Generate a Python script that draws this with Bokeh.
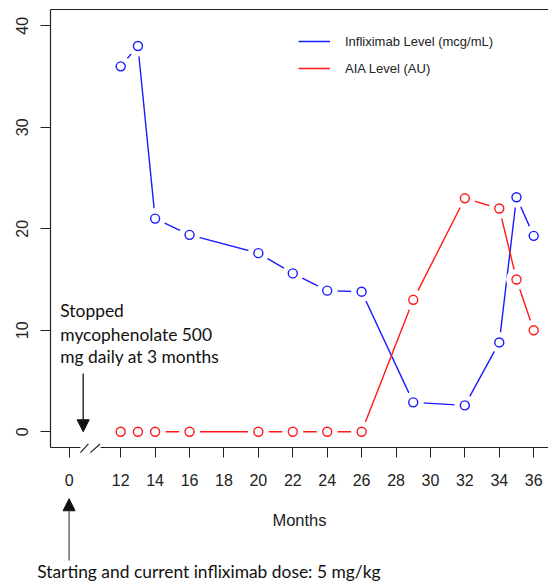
from bokeh.plotting import figure
from bokeh.models import (Range1d, FixedTicker, LinearAxis, Legend, LegendItem, Arrow, NormalHead)
from bokeh.core.properties import value
from bokeh.embed import file_html
from bokeh.resources import INLINE

# ---- data ----
months_ifx = [12, 13, 14, 16, 20, 22, 24, 26, 29, 32, 34, 35, 36]
ifx_level = [36, 38, 21, 19.4, 17.6, 15.6, 13.9, 13.8, 2.9, 2.6, 8.8, 23.1, 19.3]
months_aia = [12, 13, 14, 16, 20, 22, 24, 26, 29, 32, 34, 35, 36]
aia_level = [0, 0, 0, 0, 0, 0, 0, 0, 13, 23, 22, 15, 10]

x_tick_pos = [9, 12, 14, 16, 18, 20, 22, 24, 26, 28, 30, 32, 34, 36]
x_tick_labels = ["0", "12", "14", "16", "18", "20", "22", "24", "26", "28", "30", "32", "34", "36"]
y_ticks = [0, 10, 20, 30, 40]

series_names = ["Infliximab Level (mcg/mL)", "AIA Level (AU)"]
series_colors = ["#1a1aff", "#ff1a1a"]

annot_top = ["Stopped", "mycophenolate 500", "mg daily at 3 months"]
annot_bottom = "Starting and current infliximab dose: 5 mg/kg"
x_title = "Months"

# ---- geometry ----
W, H = 548, 581
SX = 17.208   # px per month
SY = 10.151   # px per unit
BX0, BX1 = 7.92, 36.86      # plot box left / right (data)
BY0, BY1 = -1.55, 41.6      # plot box bottom / top (data)
BOX_L, BOX_T, BOX_B = 50, 9, 447   # box edges in px

INK = "#222222"
TICK_FONT = "Liberation Sans"
ANN_FONT = "Lato"

p = figure(width=W, height=H, output_backend="svg", toolbar_location=None,
           x_range=Range1d(BX0 - BOX_L / SX, BX1),
           y_range=Range1d(BY0 - (H - BOX_B) / SY, BY1 + BOX_T / SY),
           x_axis_location=None, y_axis_location=None,
           min_border=0, min_border_left=0, min_border_right=0,
           min_border_top=0, min_border_bottom=0)
p.outline_line_color = None
p.grid.visible = False

# x axis drawn at the box bottom
xa = LinearAxis(fixed_location=BY0, bounds=(BX0, BX1))
xa.ticker = FixedTicker(ticks=x_tick_pos)
xa.major_label_overrides = {t: l for t, l in zip(x_tick_pos, x_tick_labels)}
xa.minor_tick_line_color = None
xa.major_tick_in = 0
xa.major_tick_out = 10
xa.major_tick_line_color = INK
xa.axis_line_color = None
xa.major_label_standoff = 16
xa.major_label_text_font = TICK_FONT
xa.major_label_text_font_size = "16px"
xa.major_label_text_color = INK
xa.axis_label = x_title
xa.axis_label_text_font = TICK_FONT
xa.axis_label_text_font_size = "16.5px"
xa.axis_label_text_font_style = "normal"
xa.axis_label_text_color = INK
xa.axis_label_standoff = 22
p.add_layout(xa, "below")

# y axis drawn at the box left
ya = LinearAxis(fixed_location=BX0, bounds=(BY0, BY1))
ya.ticker = FixedTicker(ticks=y_ticks)
ya.minor_tick_line_color = None
ya.major_tick_in = 0
ya.major_tick_out = 10
ya.major_tick_line_color = INK
ya.axis_line_color = INK
ya.axis_line_width = 1.2
ya.major_label_standoff = 12
ya.major_label_text_font = TICK_FONT
ya.major_label_text_font_size = "16px"
ya.major_label_text_color = INK
ya.major_label_orientation = "vertical"
p.add_layout(ya, "left")

# top line and bottom line with axis break
brk_a, brk_b = 9.66, 10.83
p.segment(x0=[BX0, BX0, brk_b], y0=[BY1, BY0, BY0],
          x1=[BX1, brk_a, BX1], y1=[BY1, BY0, BY0],
          line_color=INK, line_width=1.2)
p.segment(x0=[9.66, 10.24], y0=[-2.05, -2.05], x1=[10.12, 10.80], y1=[-1.2, -1.2],
          line_color=INK, line_width=1.2)

# series (R type="b" look: line with gaps around points)
items = []
for xs, ys, name, col in [(months_ifx, ifx_level, series_names[0], series_colors[0]),
                          (months_aia, aia_level, series_names[1], series_colors[1])]:
    ln = p.line(xs, ys, line_color=col, line_width=1.4)
    p.scatter(xs, ys, marker="circle", size=21, fill_color="white", line_color=None)
    p.scatter(xs, ys, marker="circle", size=9, fill_color=None, line_color=col, line_width=1.4)
    items.append(LegendItem(label=name, renderers=[ln]))

legend = Legend(items=items, location="top_right", border_line_color=None,
                background_fill_alpha=0, padding=0, margin=31, spacing=7,
                glyph_width=32, glyph_height=20, label_height=20, label_width=172,
                label_standoff=15, label_text_font=TICK_FONT,
                label_text_font_size="13px", label_text_color=INK)
p.add_layout(legend)

# note on mycophenolate with arrow
p.text(x=[8.49] * 3, y=[11.95, 9.63, 7.37], text=annot_top,
       text_font=value(ANN_FONT), text_font_size="17.4px", text_color="#111111",
       text_baseline="alphabetic", text_align="left")
p.add_layout(Arrow(end=NormalHead(size=12, fill_color="#111111", line_color="#111111"),
                   x_start=9.82, y_start=5.74, x_end=9.82, y_end=0.0,
                   line_color="#111111", line_width=1.3))

# note on infliximab dose with arrow to month 0
p.text(x=[7.147], y=[-13.79], text=[annot_bottom], text_font=value(ANN_FONT),
       text_font_size="17.4px", text_color="#111111", text_align="left",
       text_baseline="alphabetic")
p.add_layout(Arrow(end=NormalHead(size=12, fill_color="#111111", line_color="#111111"),
                   x_start=x_tick_pos[0], y_start=-12.68, x_end=x_tick_pos[0], y_end=-6.60,
                   line_color="#555555", line_width=1.3))

open("out.html", "w").write(file_html(p, INLINE))
